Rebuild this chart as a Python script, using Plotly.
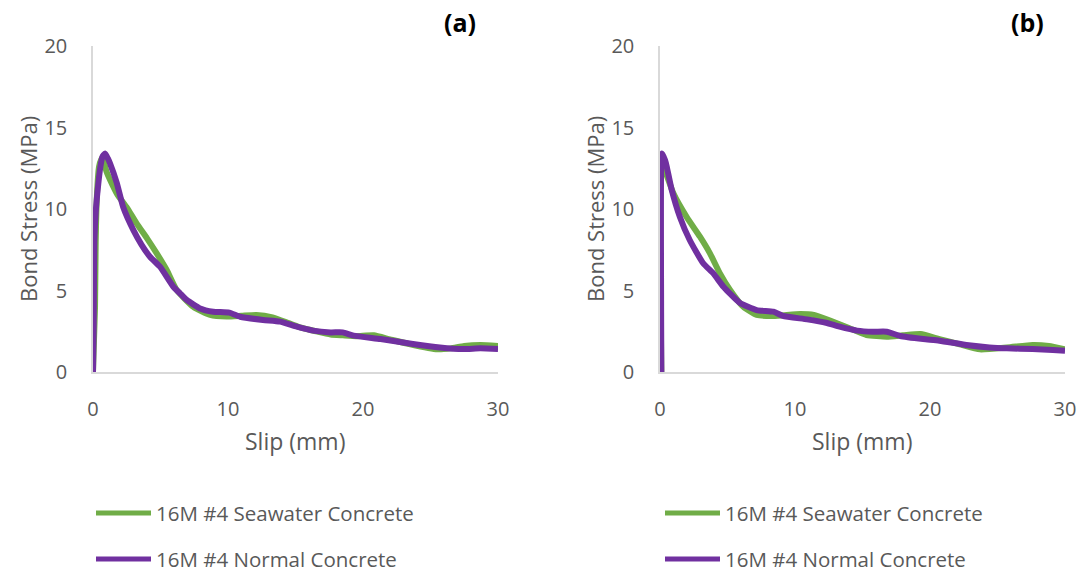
import plotly.graph_objects as go

# Bond stress–slip curves, panel (a)
slip_sw_a = [0, 0.15, 0.2, 0.3, 0.45, 0.64, 0.8, 1.0, 1.26, 1.8, 2.5, 3.24, 4.0, 4.72, 5.46, 6.2,
             7.43, 8.67, 9.9, 11.0, 12.1, 13.3, 14.5, 15.5, 16.5, 17.6, 18.5, 19.5, 20.8, 22.0,
             23.5, 25.5, 26.5, 27.5, 28.7, 30.0]
stress_sw_a = [0, 4.0, 8.0, 11.0, 12.6, 13.1, 12.9, 12.3, 11.8, 10.9, 10.1, 9.1, 8.2, 7.28, 6.26, 5.03,
               4.0, 3.5, 3.4, 3.45, 3.5, 3.35, 3.0, 2.7, 2.5, 2.3, 2.25, 2.2, 2.25, 2.0,
               1.7, 1.39, 1.45, 1.6, 1.66, 1.6]

slip_nc_a = [0, 0.05, 0.1, 0.2, 0.35, 0.55, 0.7, 0.89, 1.1, 1.26, 1.76, 2.24, 2.99, 3.6, 4.22, 4.96,
             5.95, 6.44, 6.94, 7.93, 8.9, 10.1, 10.9, 12.6, 13.85, 15.1, 16.3, 17.6, 18.5, 19.3,
             21.3, 23.7, 25.7, 27.4, 28.7, 30.0]
stress_nc_a = [0, 3.0, 8.0, 9.8, 11.2, 12.6, 13.2, 13.4, 13.1, 12.8, 11.6, 10.1, 8.7, 7.8, 7.07, 6.46,
               5.23, 4.83, 4.42, 3.9, 3.7, 3.64, 3.39, 3.19, 3.09, 2.78, 2.54, 2.43, 2.43, 2.23,
               2.02, 1.72, 1.51, 1.41, 1.45, 1.41]

# Panel (b)
slip_sw_b = [0.1, 0.1, 0.3, 0.99, 1.98, 2.96, 3.7, 4.44, 5.19, 6.17, 7.16, 8.4, 10.4, 11.4, 12.6,
             14.0, 15.3, 16.8, 18.0, 19.3, 20.7, 22.2, 23.7, 25.7, 27.6, 28.8, 30.0]
stress_sw_b = [0, 12.8, 12.5, 10.96, 9.5, 8.3, 7.28, 6.05, 5.03, 4.0, 3.5, 3.44, 3.56, 3.5, 3.15,
               2.7, 2.27, 2.17, 2.25, 2.33, 2.02, 1.7, 1.39, 1.5, 1.66, 1.6, 1.39]

slip_nc_b = [0.1, 0.1, 0.15, 0.37, 0.5, 0.86, 1.48, 2.2, 3.2, 3.95, 4.7, 5.9, 7.16, 8.4, 9.1, 10.9,
             12.3, 13.3, 14.6, 15.8, 16.8, 17.8, 19.5, 20.7, 22.7, 24.4, 25.7, 27.6, 29.1, 30.0]
stress_nc_b = [0, 13.2, 13.4, 13.0, 12.6, 11.2, 9.5, 8.1, 6.67, 6.05, 5.23, 4.25, 3.8, 3.7, 3.44, 3.23,
               3.02, 2.78, 2.54, 2.47, 2.47, 2.21, 2.02, 1.92, 1.66, 1.51, 1.45, 1.41, 1.35, 1.31]

series_names = ["16M #4 Seawater Concrete", "16M #4 Normal Concrete"]
panel_labels = ["(a)", "(b)"]
x_ticks = [0, 10, 20, 30]
y_ticks = [0, 5, 10, 15, 20]

GREEN = "#70AD47"
PURPLE = "#7030A0"
GREY_TEXT = "#595959"
FONT = "Open Sans"

W, H = 1083, 572

fig = go.Figure()

panels = [
    ("x", "y", slip_sw_a, stress_sw_a, slip_nc_a, stress_nc_a),
    ("x2", "y2", slip_sw_b, stress_sw_b, slip_nc_b, stress_nc_b),
]
for xa, ya, xs, ys, xn, yn in panels:
    fig.add_trace(go.Scatter(x=xs, y=ys, mode="lines", name=series_names[0], xaxis=xa, yaxis=ya,
                             line=dict(color=GREEN, width=6, shape="spline", smoothing=0.5),
                             showlegend=False))
    fig.add_trace(go.Scatter(x=xn, y=yn, mode="lines", name=series_names[1], xaxis=xa, yaxis=ya,
                             line=dict(color=PURPLE, width=6, shape="spline", smoothing=0.5),
                             showlegend=False))

# plot-area positions in pixels
left_px = [93, 660]
plot_w = 405
top_px, bottom_px = 46, 372

def px_x(p):
    return p / W

def px_y(p):
    return 1 - p / H

axis_common = dict(showline=True, linecolor="#D9D9D9", linewidth=1.5, showgrid=False,
                   zeroline=False, ticks="", automargin=False,
                   tickfont=dict(family=FONT, size=20, color=GREY_TEXT))

layout_axes = {}
for i, lp in enumerate(left_px):
    sfx = "" if i == 0 else str(i + 1)
    layout_axes["xaxis" + sfx] = dict(axis_common, domain=[px_x(lp), px_x(lp + plot_w)],
                                      range=[0, 30], tickvals=x_ticks, ticklabelstandoff=18,
                                      anchor="y" + sfx)
    layout_axes["yaxis" + sfx] = dict(axis_common, domain=[px_y(bottom_px), px_y(top_px)],
                                      range=[0, 20], tickvals=y_ticks, ticklabelstandoff=20,
                                      anchor="x" + sfx)

fig.update_layout(**layout_axes)

annotations = []
shapes = []
for i, lp in enumerate(left_px):
    # axis titles
    annotations.append(dict(text="Slip (mm)", x=px_x(lp + 202), y=px_y(441), xref="paper", yref="paper",
                            showarrow=False, xanchor="center", yanchor="middle",
                            font=dict(family=FONT, size=23, color=GREY_TEXT)))
    annotations.append(dict(text="Bond Stress (MPa)", x=px_x(lp - 65), y=px_y(209), xref="paper",
                            yref="paper", showarrow=False, textangle=-90, xanchor="center",
                            yanchor="middle", font=dict(family=FONT, size=22, color=GREY_TEXT)))
    # panel label
    annotations.append(dict(text="<b>" + panel_labels[i] + "</b>", x=px_x(lp + 367), y=px_y(22),
                            xref="paper", yref="paper", showarrow=False, xanchor="center",
                            yanchor="middle", font=dict(family=FONT, size=25, color="black")))
    # legend entries
    for name, col, yy in [(series_names[0], GREEN, 513), (series_names[1], PURPLE, 559)]:
        lx0 = lp + 3 if i == 0 else lp + 5
        shapes.append(dict(type="line", xref="paper", yref="paper", x0=px_x(lx0), x1=px_x(lx0 + 55),
                           y0=px_y(yy), y1=px_y(yy), line=dict(color=col, width=5)))
        annotations.append(dict(text=name, x=px_x(lx0 + 58), y=px_y(yy), xref="paper", yref="paper",
                                showarrow=False, xanchor="left", yanchor="middle",
                                font=dict(family=FONT, size=20.5, color=GREY_TEXT)))

fig.update_layout(width=W, height=H, margin=dict(l=0, r=0, t=0, b=0),
                  paper_bgcolor="white", plot_bgcolor="white",
                  annotations=annotations, shapes=shapes, showlegend=False)

fig.write_html("out.html")
